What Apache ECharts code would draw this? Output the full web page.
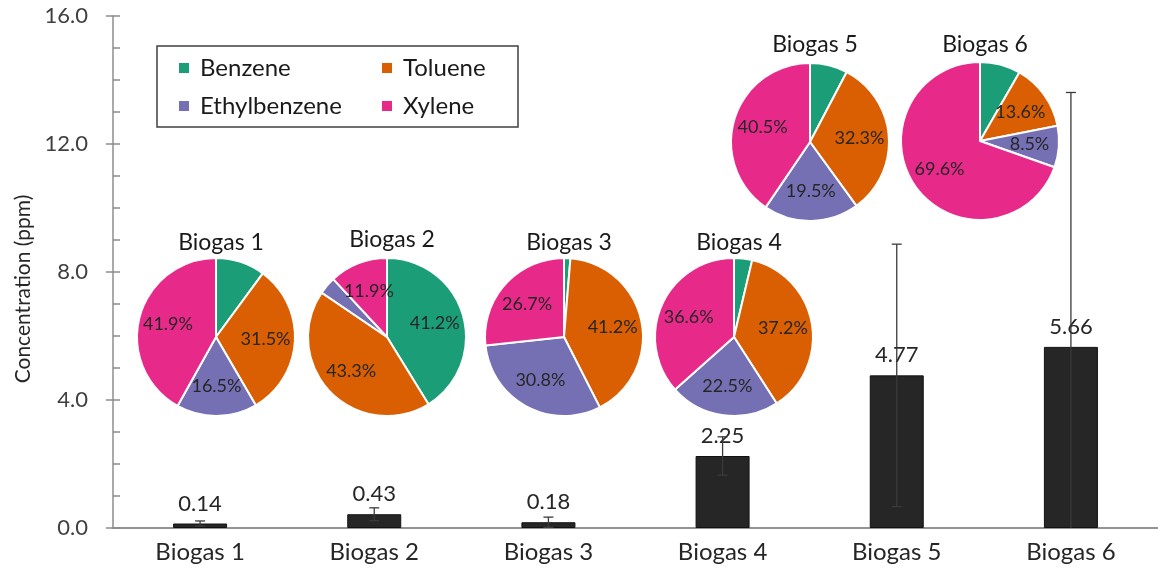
<!DOCTYPE html>
<html>
<head>
<meta charset="utf-8">
<script src="https://cdn.jsdelivr.net/npm/echarts@6/dist/echarts.min.js"></script>
<style>
  html, body { margin: 0; padding: 0; background: #fff; }
  #chart { width: 1158px; height: 578px; }
</style>
</head>
<body>
<div id="chart"></div>
<script>
// BTEX concentration per biogas sample, with compound shares as inset pies
const categories = ['Biogas 1', 'Biogas 2', 'Biogas 3', 'Biogas 4', 'Biogas 5', 'Biogas 6'];
const concentration = [0.14, 0.43, 0.18, 2.25, 4.77, 5.66];      // ppm
const errorMargin = [0.08, 0.2, 0.16, 0.6, 4.1, 7.95];           // ± ppm
const yTicks = [0, 4, 8, 12, 16];

const compounds = ['Benzene', 'Toluene', 'Ethylbenzene', 'Xylene'];
const benzeneShare = [10.1, 41.2, 1.3, 3.7, 7.7, 8.3];
const tolueneShare = [31.5, 43.3, 41.2, 37.2, 32.3, 13.6];
const ethylbenzeneShare = [16.5, 3.6, 30.8, 22.5, 19.5, 8.5];
const xyleneShare = [41.9, 11.9, 26.7, 36.6, 40.5, 69.6];

// layout of the inset pies (pixels)
const pieCenters = [[216, 337], [387, 337], [564, 337], [734, 337], [810, 142], [980, 141]];
const pieTitleTops = [226, 223, 226, 226, 28, 28];
const pieRadius = 79;

const compoundColors = ['#1b9e77', '#d95f02', '#7570b3', '#e7298a'];
const FONT = 'Lato, "Open Sans", sans-serif';

const shares = [benzeneShare, tolueneShare, ethylbenzeneShare, xyleneShare];

function pieData(i) {
  return compounds.map((name, k) => ({
    name: name,
    value: shares[k][i],
    itemStyle: { color: compoundColors[k] }
  }));
}

function showShareLabel(name, v) {
  return (name !== 'Benzene' && v >= 8) || v >= 20;
}

const chart = echarts.init(document.getElementById('chart'), null, { renderer: 'canvas' });

const pieSeries = [];
categories.forEach((cat, i) => {
  // filled slices
  pieSeries.push({
    type: 'pie',
    name: cat,
    center: pieCenters[i],
    radius: [0, pieRadius],
    startAngle: 90,
    clockwise: true,
    animation: false,
    z: 5,
    label: { show: false },
    labelLine: { show: false },
    itemStyle: { borderColor: '#ffffff', borderWidth: 2 },
    emphasis: { disabled: true },
    data: pieData(i)
  });
  // share labels, placed a bit further out than the slice midpoint
  pieSeries.push({
    type: 'pie',
    name: cat + ' shares',
    center: pieCenters[i],
    radius: [0, pieRadius * 1.18],
    startAngle: 90,
    clockwise: true,
    animation: false,
    silent: true,
    z: 6,
    itemStyle: { color: 'rgba(0,0,0,0)' },
    labelLine: { show: false },
    label: {
      show: true,
      position: 'inside',
      fontFamily: FONT,
      fontSize: 18,
      color: '#262626',
      formatter: p => showShareLabel(p.name, p.value) ? p.value.toFixed(1) + '%' : ''
    },
    emphasis: { disabled: true },
    data: compounds.map((name, k) => ({ name: name, value: shares[k][i] }))
  });
});

const legendText = { fontFamily: FONT, fontSize: 24, color: '#1a1a1a', lineHeight: 26, padding: [0, 0, 0, 5] };

const option = {
  animation: false,
  backgroundColor: '#ffffff',
  color: compoundColors,
  title: categories.map((cat, i) => ({
    text: cat,
    left: pieCenters[i][0],
    top: pieTitleTops[i],
    textAlign: 'center',
    textStyle: { fontFamily: FONT, fontSize: 23, fontWeight: 'normal', color: '#1a1a1a' }
  })),
  legend: [
    {
      data: ['Benzene', 'Ethylbenzene'],
      orient: 'vertical',
      left: 177, top: 55,
      padding: 0,
      itemWidth: 12, itemHeight: 12, itemGap: 12,
      icon: 'rect',
      selectedMode: false,
      textStyle: legendText
    },
    {
      data: ['Toluene', 'Xylene'],
      orient: 'vertical',
      left: 380, top: 55,
      padding: 0,
      itemWidth: 12, itemHeight: 12, itemGap: 12,
      icon: 'rect',
      selectedMode: false,
      textStyle: legendText
    }
  ],
  graphic: [
    {
      type: 'rect',
      shape: { x: 157, y: 46, width: 361, height: 81 },
      style: { fill: 'none', stroke: '#404040', lineWidth: 1.5 },
      z: 10
    },
    {
      type: 'text',
      x: 23, y: 289,
      rotation: Math.PI / 2,
      style: {
        text: 'Concentration (ppm)',
        font: '21px ' + FONT,
        fill: '#262626',
        align: 'center',
        verticalAlign: 'middle'
      }
    }
  ],
  grid: { left: 113, right: 0, top: 16, bottom: 50, containLabel: false },
  xAxis: [
    {
      type: 'category',
      data: categories,
      boundaryGap: true,
      axisLine: { show: true, lineStyle: { color: '#8c8c8c', width: 1.5 } },
      axisTick: { show: false },
      axisLabel: { fontFamily: FONT, fontSize: 24, color: '#262626', margin: 12 }
    },
    {
      type: 'category',
      data: categories,
      position: 'top',
      axisLine: { show: true, lineStyle: { color: '#8c8c8c', width: 1.5 } },
      axisTick: { show: false },
      axisLabel: { show: false }
    }
  ],
  yAxis: [
    {
      type: 'value',
      min: yTicks[0], max: yTicks[yTicks.length - 1], interval: yTicks[1] - yTicks[0],
      axisLine: { show: true, lineStyle: { color: '#8c8c8c', width: 1.5 } },
      axisTick: { show: true, inside: false, length: 7, lineStyle: { color: '#8c8c8c', width: 1.5 } },
      axisLabel: { fontFamily: FONT, fontSize: 22, color: '#404040', margin: 25, formatter: v => v.toFixed(1) },
      splitLine: { show: false }
    },
    {
      // minor ticks, drawn on the inner side
      type: 'value',
      position: 'left',
      min: yTicks[0], max: yTicks[yTicks.length - 1], interval: 1,
      axisLine: { show: false },
      axisTick: { show: true, inside: true, length: 7, lineStyle: { color: '#8c8c8c', width: 1.5 } },
      axisLabel: { show: false },
      splitLine: { show: false }
    }
  ],
  series: [
    {
      type: 'bar',
      name: 'Concentration',
      data: concentration,
      barWidth: '31%',
      itemStyle: { color: '#262626', borderColor: '#111111', borderWidth: 1 },
      label: {
        show: true,
        position: 'top',
        distance: 9,
        fontFamily: FONT,
        fontSize: 22,
        color: '#262626',
        formatter: p => p.value.toFixed(2)
      },
      z: 2
    },
    {
      type: 'custom',
      name: 'Error',
      z: 3,
      silent: true,
      encode: { x: 0, y: [1, 2] },
      data: concentration.map((v, i) => [i, v - errorMargin[i], v + errorMargin[i]]),
      renderItem: function (params, api) {
        const i = api.value(0);
        const rawLow = api.value(1);
        const hi = api.coord([i, api.value(2)]);
        const lo = api.coord([i, Math.max(0, rawLow)]);
        const cap = 5;
        const stroke = { stroke: '#3a3a3a', lineWidth: 1.3 };
        const children = [
          { type: 'line', shape: { x1: hi[0], y1: hi[1], x2: lo[0], y2: lo[1] }, style: stroke },
          { type: 'line', shape: { x1: hi[0] - cap, y1: hi[1], x2: hi[0] + cap, y2: hi[1] }, style: stroke }
        ];
        if (rawLow >= 0) {
          children.push({ type: 'line', shape: { x1: lo[0] - cap, y1: lo[1], x2: lo[0] + cap, y2: lo[1] }, style: stroke });
        }
        return { type: 'group', children: children };
      }
    }
  ].concat(pieSeries)
};

chart.setOption(option);
</script>
</body>
</html>
